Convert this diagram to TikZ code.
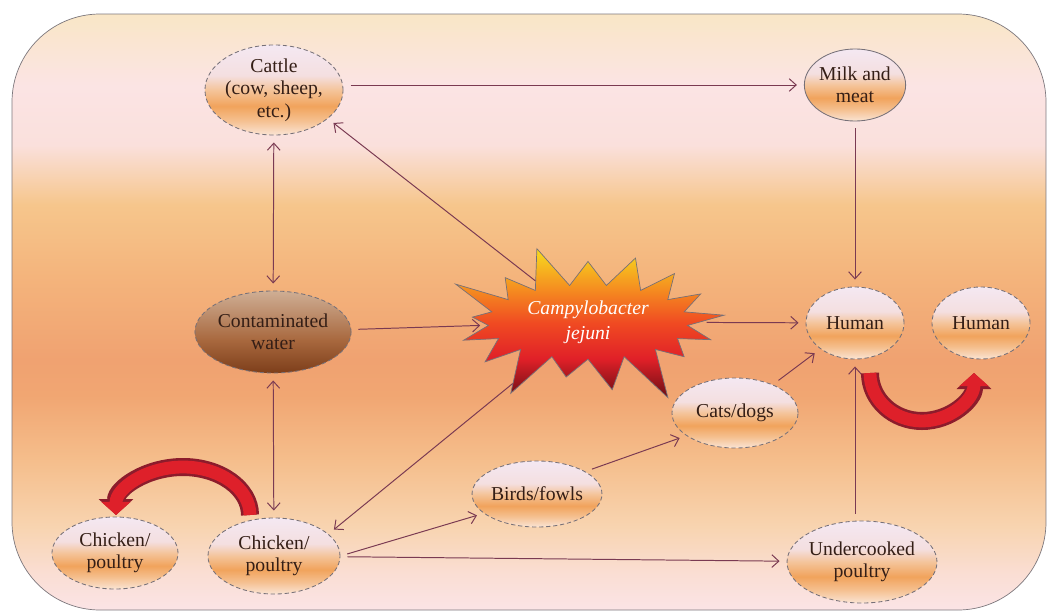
\documentclass[tikz,border=0pt]{standalone}
\usepackage{fontspec}
\setmainfont{Liberation Serif}
\usetikzlibrary{shapes.geometric}
\usetikzlibrary{shapes.symbols}
\usetikzlibrary{arrows.meta}

\definecolor{linkc}{RGB}{122,58,82}
\definecolor{ovalline}{RGB}{118,112,120}
\definecolor{txt}{RGB}{52,30,22}
\definecolor{bgline}{RGB}{125,120,125}
\definecolor{redrim}{RGB}{140,28,44}
\definecolor{redmid}{RGB}{222,32,42}

\pgfdeclareverticalshading{bgshade}{100bp}{%
  color(0bp)=(rgb,255:red,251;green,228;blue,230);
  color(25bp)=(rgb,255:red,251;green,228;blue,230);
  color(28bp)=(rgb,255:red,250;green,222;blue,212);
  color(32bp)=(rgb,255:red,248;green,212;blue,176);
  color(37.5bp)=(rgb,255:red,245;green,190;blue,140);
  color(43bp)=(rgb,255:red,241;green,166;blue,114);
  color(46bp)=(rgb,255:red,240;green,162;blue,113);
  color(53bp)=(rgb,255:red,244;green,180;blue,124);
  color(59bp)=(rgb,255:red,246;green,198;blue,140);
  color(64bp)=(rgb,255:red,250;green,224;blue,220);
  color(69bp)=(rgb,255:red,251;green,228;blue,228);
  color(75bp)=(rgb,255:red,249;green,230;blue,198);
  color(100bp)=(rgb,255:red,249;green,230;blue,198)}

\pgfdeclareverticalshading{ovalshade}{100bp}{%
  color(0bp)=(rgb,255:red,250;green,228;blue,212);
  color(25bp)=(rgb,255:red,250;green,228;blue,212);
  color(33bp)=(rgb,255:red,245;green,192;blue,144);
  color(41bp)=(rgb,255:red,241;green,163;blue,92);
  color(50bp)=(rgb,255:red,244;green,196;blue,154);
  color(58bp)=(rgb,255:red,244;green,223;blue,224);
  color(75bp)=(rgb,255:red,244;green,232;blue,242);
  color(100bp)=(rgb,255:red,244;green,232;blue,242)}

\pgfdeclareverticalshading{watershade}{100bp}{%
  color(0bp)=(rgb,255:red,125;green,62;blue,26);
  color(25bp)=(rgb,255:red,125;green,62;blue,26);
  color(45bp)=(rgb,255:red,168;green,104;blue,62);
  color(75bp)=(rgb,255:red,207;green,174;blue,148);
  color(100bp)=(rgb,255:red,207;green,174;blue,148)}

\pgfdeclareverticalshading{starshade}{100bp}{%
  color(0bp)=(rgb,255:red,106;green,14;blue,20);
  color(25bp)=(rgb,255:red,106;green,14;blue,20);
  color(38bp)=(rgb,255:red,224;green,32;blue,40);
  color(50bp)=(rgb,255:red,240;green,74;blue,34);
  color(62bp)=(rgb,255:red,245;green,144;blue,32);
  color(75bp)=(rgb,255:red,247;green,220;blue,30);
  color(100bp)=(rgb,255:red,247;green,220;blue,30)}

\begin{document}
\begin{tikzpicture} [x=0.025cm, y=-0.025cm,
    oval/.style = {ellipse, draw = ovalline, line width = 0.6pt,
        dash pattern = on 3pt off 2pt, shading = ovalshade,
        text = txt, align = center, inner sep = 0pt,
        font = \fontsize{14}{16}\selectfont},
    link/.style = {draw = linkc, line width = 0.7pt,
        -{Straight Barb[length=5pt, width=9pt]},
        shorten > = 5pt, shorten < = 5pt},
    twoway/.style = {link,
        {Straight Barb[length=5pt, width=9pt]}-{Straight Barb[length=5pt, width=9pt]}},
    rim/.style = {draw = redrim, line width = 0.45cm,
        -{Triangle[width=0.85cm, length=0.4cm]}},
    core/.style = {draw = redmid, line width = 0.32cm,
        -{Triangle[width=0.72cm, length=0.33cm]}}]

\useasboundingbox (0,0) rectangle (1048,612);

% background
\shadedraw [shading = bgshade, draw = bgline, line width = 0.5pt,
    rounded corners = 2.2cm] (12,14) rectangle (1046,610);

% sources
\node (cattle) [oval, minimum width = 3.3cm, minimum height = 2.25cm]
    at (274,90) {Cattle\\(cow, sheep,\\etc.)};
\node (water) [oval, shading = watershade, minimum width = 3.4cm,
    minimum height = 2.05cm] at (273,332) {Contaminated\\water};
\node (chicka) [oval, minimum width = 3.15cm, minimum height = 1.8cm]
    at (115,553) {Chicken/\\poultry};
\node (chickb) [oval, minimum width = 3.3cm, minimum height = 1.9cm]
    at (274,556) {Chicken/\\poultry};

% bacterium
\node (campy) [starburst, starburst points = 17,
    starburst point height = 1.3cm, random starburst = 9,
    minimum width = 7.6cm, minimum height = 4.4cm,
    shading = starshade, draw = ovalline, line width = 0.5pt,
    text = white, align = center,
    font = \fontsize{14}{18}\selectfont\itshape]
    at (588,322) {Campylobacter\\jejuni};

% routes
\node (milk) [oval, solid, minimum width = 2.5cm, minimum height = 1.8cm]
    at (855,85) {Milk and\\meat};
\node (birds) [oval, minimum width = 3.1cm, minimum height = 1.65cm]
    at (537,494) {Birds/fowls};
\node (cats) [oval, minimum width = 3.15cm, minimum height = 1.75cm]
    at (735,413) {Cats/dogs};
\node (under) [oval, minimum width = 3.1cm, minimum height = 2.05cm]
    at (862,562) {Undercooked\\poultry};

% humans
\node (hum) [oval, minimum width = 2.45cm, minimum height = 1.8cm]
    at (855,323) {Human};
\node (humb) [oval, minimum width = 2.45cm, minimum height = 1.8cm]
    at (981,323) {Human};

% connectors
\draw [link] (cattle.east |- milk) -- (milk);
\draw [link] (milk) -- (hum);
\draw [twoway] (cattle) -- (water);
\draw [twoway] (water) -- (chickb);
\draw [link] (water) -- (campy);
\draw [link] (campy) -- (hum);
\draw [link, shorten < = 0pt] (campy) -- (cattle.-28);
\draw [link, shorten < = 0pt] (campy) -- (chickb.22);
\draw [link] (chickb.east) -- (birds.200);
\draw [link] (birds.25) -- (cats.205);
\draw [link] (cats) -- (hum);
\draw [link] (chickb) -- (under);
\draw [link] (under.north -| hum.south) -- (hum.south);

% spread arrows
\draw [rim] (250,515) arc [start angle = 0, end angle = -180,
    x radius = 67, y radius = 48];
\draw [core] (250,515) arc [start angle = 0, end angle = -180,
    x radius = 67, y radius = 48];
\draw [rim] (870,373) arc [start angle = 180, end angle = 0,
    x radius = 52, y radius = 48];
\draw [core] (870,373) arc [start angle = 180, end angle = 0,
    x radius = 52, y radius = 48];

\end{tikzpicture}
\end{document}
